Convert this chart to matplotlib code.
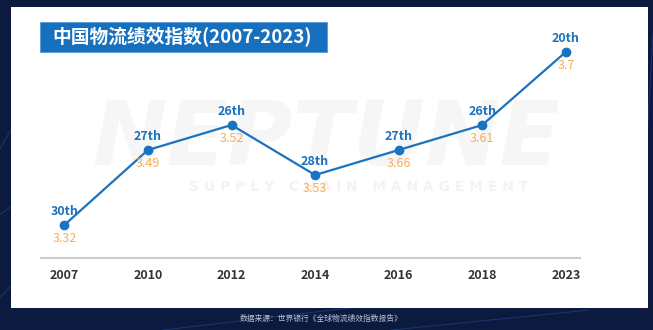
import numpy as np
import matplotlib
matplotlib.use("Agg")
import matplotlib.pyplot as plt
from matplotlib.patches import Rectangle

plt.rcParams['font.family'] = ['Noto Sans CJK SC', 'DejaVu Sans']

# LPI data: year, world rank, score
years = ['2007', '2010', '2012', '2014', '2016', '2018', '2023']
ranks = [30, 27, 26, 28, 27, 26, 20]
scores = ['3.32', '3.49', '3.52', '3.53', '3.66', '3.61', '3.7']

BLUE = '#1a72c0'
ORANGE = '#f8ad5c'
NAVY = '#0b1a3e'


# rank axis: one unit per place from 30 to 26, compressed above 26
def rank_fwd(r):
    r = np.asarray(r, dtype=float)
    return np.where(r >= 26, r - 30, -4 - (26 - r) * 0.487)


def rank_inv(y):
    y = np.asarray(y, dtype=float)
    return np.where(y >= -4, y + 30, 26 + (y + 4) / 0.487)


fig = plt.figure(figsize=(6.53, 3.30), dpi=100, facecolor=NAVY)

# faint streaks on the dark background
bg = fig.add_axes([0, 0, 1, 1], zorder=-5)
bg.set_xlim(0, 1)
bg.set_ylim(0, 1)
bg.axis('off')
for x0, y0, x1, y1 in [(0, 0.55, 0.06, 0.75), (0, 0.35, 0.05, 0.42), (0, 0.1, 0.05, 0.2),
                       (0.25, 0, 0.55, 0.07), (0.6, 0.0, 0.9, 0.06), (0.98, 0.2, 1.0, 0.9)]:
    bg.plot([x0, x1], [y0, y1], color='#2a4f9a', lw=0.8, alpha=0.5)

# white card
fig.patches.append(Rectangle((11 / 653, 22 / 330), 637 / 653, 301 / 330,
                             transform=fig.transFigure, facecolor='white',
                             edgecolor='none', zorder=-2))

# title banner
fig.patches.append(Rectangle((40 / 653, 1 - 52 / 330), 287 / 653, 30 / 330,
                             transform=fig.transFigure, facecolor='#1670bd',
                             edgecolor='#5b9bd5', lw=0.6, zorder=1))
fig.text(52 / 653, 1 - 37 / 330, '中国物流绩效指数(2007-2023)', color='white',
         fontsize=13.5, fontweight='bold', va='center', ha='left', zorder=2)

# watermark
fig.text(0.5, 1 - 140 / 330, 'NEPTUNE', color='#f6f6f6', fontsize=64,
         fontweight='bold', fontstyle='italic', ha='center', va='center',
         family='DejaVu Sans', zorder=-1)
fig.text(0.55, 1 - 187 / 330, 'S U P P L Y   C H A I N   M A N A G E M E N T',
         color='#f3f3f3', fontsize=10, fontweight='bold', ha='center',
         va='center', family='DejaVu Sans', zorder=-1)

ax = fig.add_axes([41 / 653, 1 - 258 / 330, 539 / 653, 228 / 330])
ax.patch.set_alpha(0)
ax.set_yscale('function', functions=(rank_fwd, rank_inv))

x = np.arange(len(years))
ax.plot(x, ranks, color=BLUE, lw=1.6, marker='o', markersize=6,
        markerfacecolor=BLUE, markeredgecolor=BLUE)

for xi, r, s in zip(x, ranks, scores):
    ax.annotate(f'{r}th', (xi, r), xytext=(0, 9.5), textcoords='offset points',
                ha='center', va='center', color=BLUE, fontsize=9,
                fontweight='bold')
    ax.annotate(s, (xi, r), xytext=(0, -10), textcoords='offset points',
                ha='center', va='center', color=ORANGE, fontsize=9)

ax.set_xlim(-0.28, 6.17)
ax.set_ylim(float(rank_inv(1.32)), float(rank_inv(-7.8)))

ax.set_xticks(x, years)
ax.set_yticks([])
ax.minorticks_off()
ax.tick_params(axis='x', length=0, pad=8, labelsize=9, labelcolor='#333333')
for lbl in ax.get_xticklabels():
    lbl.set_fontweight('bold')
for side in ['top', 'left', 'right']:
    ax.spines[side].set_visible(False)
ax.spines['bottom'].set_color('#cccccc')
ax.spines['bottom'].set_linewidth(1.5)

fig.text(0.492, 1 - 319 / 330, '数据来源：世界银行《全球物流绩效指数报告》',
         color='#b8c2d6', fontsize=5.6, ha='center', va='center')

fig.savefig('out.png', dpi=100, facecolor=NAVY)
